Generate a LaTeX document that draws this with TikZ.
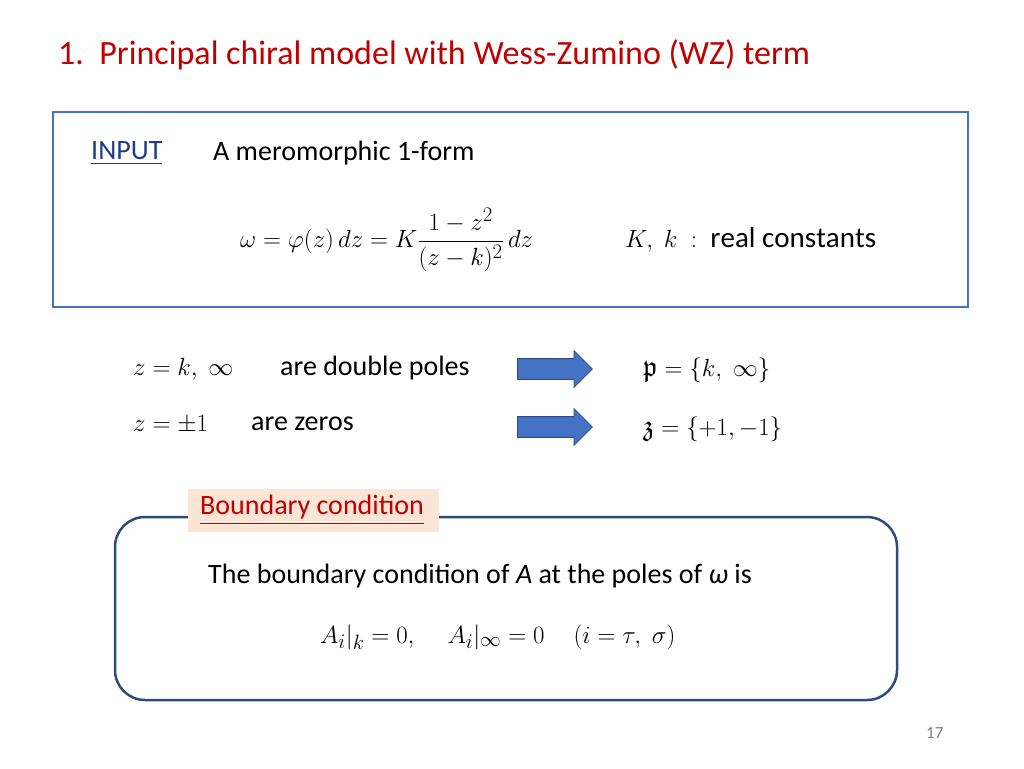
\documentclass[tikz,border=0pt]{standalone}
\usepackage{amsmath,amssymb}
\usepackage{fontspec}
\setmainfont{Carlito}
\usetikzlibrary{shapes.arrows}
\definecolor{ttl}{HTML}{C00000}
\definecolor{bx}{HTML}{4472C4}
\definecolor{dbx}{HTML}{2F4B7C}
\definecolor{inp}{HTML}{1F3C88}
\definecolor{peach}{HTML}{FBE5D6}
\tikzset{
  txt/.style={anchor=west,inner sep=0pt,font=\fontsize{28}{33}\selectfont},
  mth/.style={anchor=west,inner sep=0pt,font=\fontsize{29}{34}\selectfont},
  barrow/.style={single arrow,fill=bx,draw=dbx,line width=0.8pt,minimum height=75pt,minimum width=34pt,single arrow head extend=8pt,inner sep=0pt,anchor=west,text width=0pt,text height=10pt,text depth=10pt}
}
\begin{document}
\begin{tikzpicture}[x=1pt,y=-1pt]
\useasboundingbox (0,0) rectangle (1024,768);
\node[txt,text=ttl,font=\fontsize{34}{40}\selectfont] (title) at (58,55) {1.\ \ Principal chiral model with Wess-Zumino (WZ) term};
\draw[bx,line width=2.5pt] (53,112) rectangle (968,307);
\node[txt,text=inp] (input) at (91,153) {\underline{INPUT}};
\node[txt] (mero) at (213,153) {A meromorphic 1-form};
\node[mth] (eq1) at (240,240) {$\omega=\varphi(z)\,dz=K\dfrac{1-z^2}{(z-k)^2}\,dz$};
\node[mth] (rc) at (625,240) {$K,\ k\ :\ \mathrm{real\ constants}$};
\node[mth] (r1m) at (133,369) {$z=k,\ \infty$};
\node[txt] (r1t) at (280,368) {are double poles};
\node[barrow] (a1) at (517,369) {};
\node[mth] (p) at (643,370) {$\mathfrak{p}=\{k,\ \infty\}$};
\node[mth] (r2m) at (133,425) {$z=\pm1$};
\node[txt] (r2t) at (251,424) {are zeros};
\node[barrow] (a2) at (517,427) {};
\node[mth] (zz) at (643,429) {$\mathfrak{z}=\{+1,-1\}$};
\draw[dbx,line width=2.5pt,rounded corners=30pt] (115,517) rectangle (897,700);
\node[fill=peach,minimum width=251pt,minimum height=43pt,inner sep=0pt] (bc) at (313.5,510) {};
\node[txt,text=ttl] (bct) at (200,510) {\underline{Boundary condition}};
\node[txt] (bt) at (208,576) {The boundary condition of \textit{A} at the poles of \textit{ω} is};
\node[mth] (eq2) at (320,637) {$A_i|_k=0,\quad A_i|_\infty=0\quad(i=\tau,\ \sigma)$};
\node[txt,text=gray,font=\fontsize{17}{20}\selectfont] (pg) at (926,733) {17};
\end{tikzpicture}
\end{document}
